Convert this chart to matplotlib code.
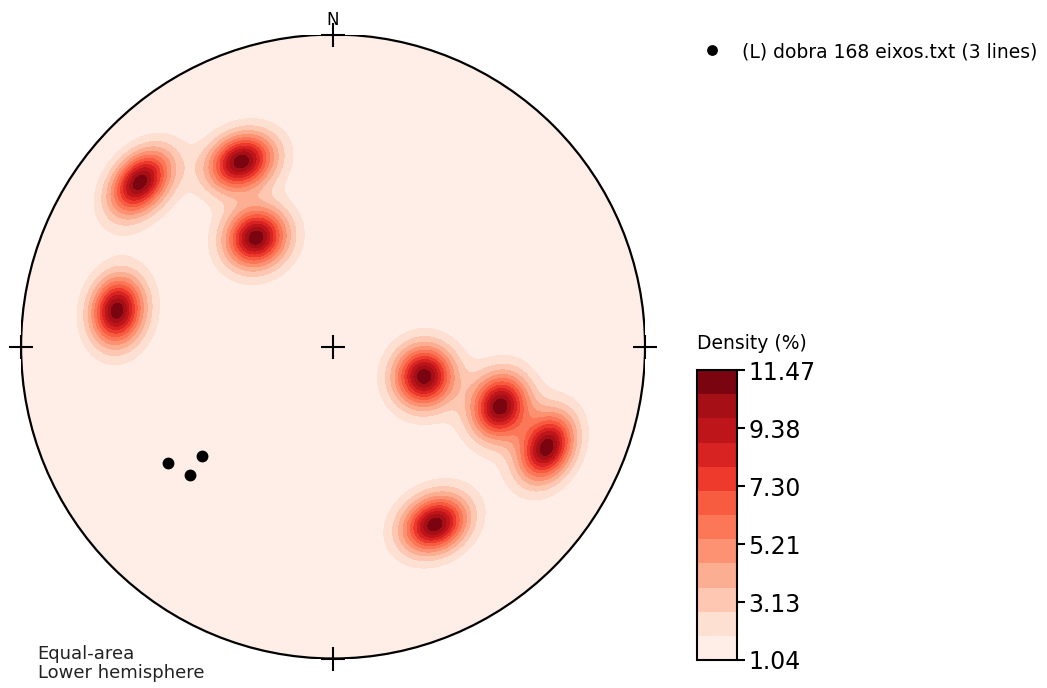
import numpy as np
import matplotlib
matplotlib.use("Agg")
import matplotlib.pyplot as plt
from matplotlib.patches import Circle

# density maxima (trend, plunge in degrees)
peak_trend = [310.4, 333.6, 324.7, 279.4, 108.2, 109.7, 115.3, 150.2]
peak_plunge = [19.9, 34.2, 54.8, 30.5, 64.9, 42.6, 25.2, 34.6]
# plotted lines (L) dobra 168 eixos.txt
line_trend = [234.7, 228.0, 230.0]
line_plunge = [35.5, 38.3, 44.4]
dens_min, dens_max = 1.04, 11.47
n_bands = 12
legend_label = "(L) dobra 168 eixos.txt (3 lines)"


def project(trend, plunge):
    t = np.radians(trend); p = np.radians(plunge)
    r = np.sqrt(2) * np.sin((np.pi / 2 - p) / 2)
    return r * np.sin(t), r * np.cos(t)


def dircos(trend, plunge):
    t = np.radians(trend); p = np.radians(plunge)
    return np.cos(p) * np.sin(t), np.cos(p) * np.cos(t), -np.sin(p)


# density grid, smooth kernel on the sphere (axial data)
g = np.linspace(-1, 1, 500)
X, Y = np.meshgrid(g, g)
R = np.clip(np.hypot(X, Y), 0, 1)
gp = 90 - 2 * np.degrees(np.arcsin(R / np.sqrt(2)))
gt = np.degrees(np.arctan2(X, Y))
gx, gy, gz = dircos(gt, gp)
a, q = 0.127, 1.75
raw = np.zeros_like(X)
for t, p in zip(peak_trend, peak_plunge):
    px, py, pz = dircos(t, p)
    ang = np.arccos(np.clip(np.abs(gx * px + gy * py + gz * pz), 0, 1))
    raw += np.exp(-(ang / a) ** q)
inside = np.hypot(X, Y) <= 1.0
raw = (raw - raw[inside].min()) / (raw[inside].max() - raw[inside].min())
Z = dens_min + (dens_max - dens_min) * raw
Z = np.ma.masked_where(~inside, Z)

fig = plt.figure(figsize=(10.47, 6.88), dpi=100)
ax = fig.add_axes([0.0201, 0.0407, 0.5960, 0.9113])
ax.set_aspect("equal")
ax.set_xlim(-1, 1); ax.set_ylim(-1, 1)
ax.axis("off")

levels = np.linspace(dens_min, dens_max, n_bands + 1)
cs = ax.contourf(X, Y, Z, levels=levels, cmap="Reds")
clip = Circle((0, 0), 1, transform=ax.transData)
cs.set_clip_path(clip)
ax.add_patch(Circle((0, 0), 1, fill=False, ec="black", lw=1.6, zorder=5))

# cardinal and centre crosses
cx = [0, 1, 0, -1, 0]
cy = [1, 0, -1, 0, 0]
ax.plot(cx, cy, "+", color="black", ms=17, mew=1.5, zorder=6, clip_on=False)
ax.text(0, 1.018, "N", ha="center", va="bottom", fontsize=12, clip_on=False)

lx, ly = project(np.array(line_trend), np.array(line_plunge))
ax.plot(lx, ly, "o", color="black", ms=7.5, ls="none", zorder=7, label=legend_label)
ax.legend(loc="upper left", bbox_to_anchor=(1.05, 1.015), frameon=False, fontsize=13.5,
          handletextpad=0.6, markerscale=0.9)

fig.text(0.036, 0.036, "Equal-area\nLower hemisphere", ha="left", va="center", fontsize=13,
         color="#222222", linespacing=1.05)

cax = fig.add_axes([0.666, 0.0407, 0.038, 0.4215])
cb = fig.colorbar(cs, cax=cax, ticks=np.linspace(dens_min, dens_max, 6))
cb.ax.set_yticklabels([f"{v:.2f}" for v in np.linspace(dens_min, dens_max, 6)])
cb.ax.tick_params(labelsize=17, width=1.5, length=6, pad=2)
cb.outline.set_linewidth(1.5)
cb.ax.set_title("Density (%)", fontsize=13.5, pad=15, loc="left")

fig.savefig("out.png", dpi=100)
